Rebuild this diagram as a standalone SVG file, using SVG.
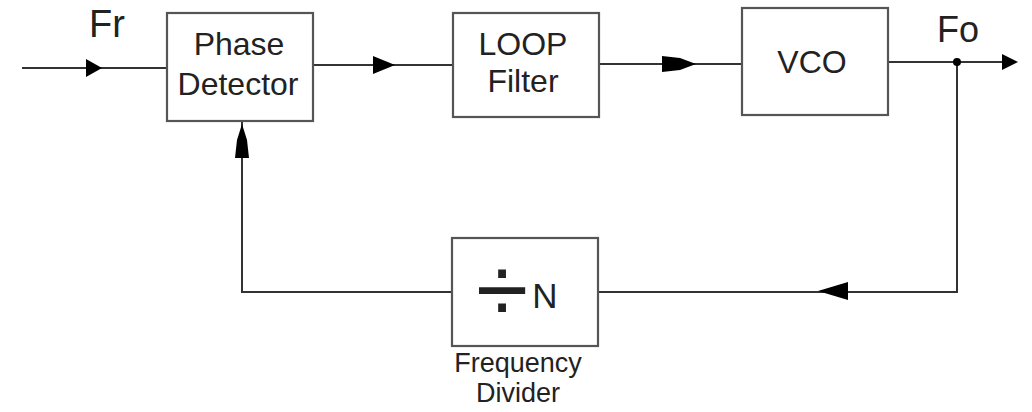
<svg xmlns="http://www.w3.org/2000/svg" width="1032" height="412" viewBox="0 0 1032 412">
<style>
.box{fill:#fff;stroke:#555;stroke-width:2.2}
.ln{fill:none;stroke:#333;stroke-width:2}
.ah{fill:#000}
.t{font-family:"Liberation Sans",Arial,sans-serif;fill:#222;text-anchor:middle}
</style>
<rect width="1032" height="412" fill="#fff"/>
<g id="connectors">
<path class="ln" d="M22 68H167"/>
<path class="ln" d="M313 65H453"/>
<path class="ln" d="M599 64H742"/>
<path class="ln" d="M888 62H1004"/>
<path class="ln" d="M957 62V292H598"/>
<path class="ln" d="M452 292H242V121"/>
<polygon class="ah" points="102,68 86,59 86,77"/>
<polygon class="ah" points="395,65 373,56 373,74"/>
<polygon class="ah" points="696,64 680,58 662,56 662,72 680,70"/>
<polygon class="ah" points="1018,62 1002,54 1002,70"/>
<polygon class="ah" points="818,291 848,282 848,300"/>
<polygon class="ah" points="242,124 237,140 235,158 249,158 247,140"/>
<circle cx="957" cy="62" r="4" fill="#000"/>
<text class="t" x="107" y="37" font-size="38">Fr</text>
<text class="t" x="958" y="42" font-size="36">Fo</text>
</g>
<g id="phase-detector">
<rect class="box" x="167" y="13" width="146" height="108"/>
<text class="t" x="239" y="55" font-size="32">Phase</text>
<text class="t" x="238" y="95" font-size="32">Detector</text>
</g>
<g id="loop-filter">
<rect class="box" x="453" y="13" width="146" height="104"/>
<text class="t" x="523" y="55" font-size="32">LOOP</text>
<text class="t" x="523" y="92" font-size="32">Filter</text>
</g>
<g id="vco">
<rect class="box" x="742" y="8" width="146" height="107"/>
<text class="t" x="812" y="73" font-size="32">VCO</text>
</g>
<g id="divider">
<rect class="box" x="452" y="238" width="146" height="108"/>
<text class="t" x="502" y="322" font-size="95">÷</text>
<text class="t" x="545" y="308" font-size="35">N</text>
<text class="t" x="518" y="372" font-size="27">Frequency</text>
<text class="t" x="518" y="402" font-size="27">Divider</text>
</g>
</svg>
